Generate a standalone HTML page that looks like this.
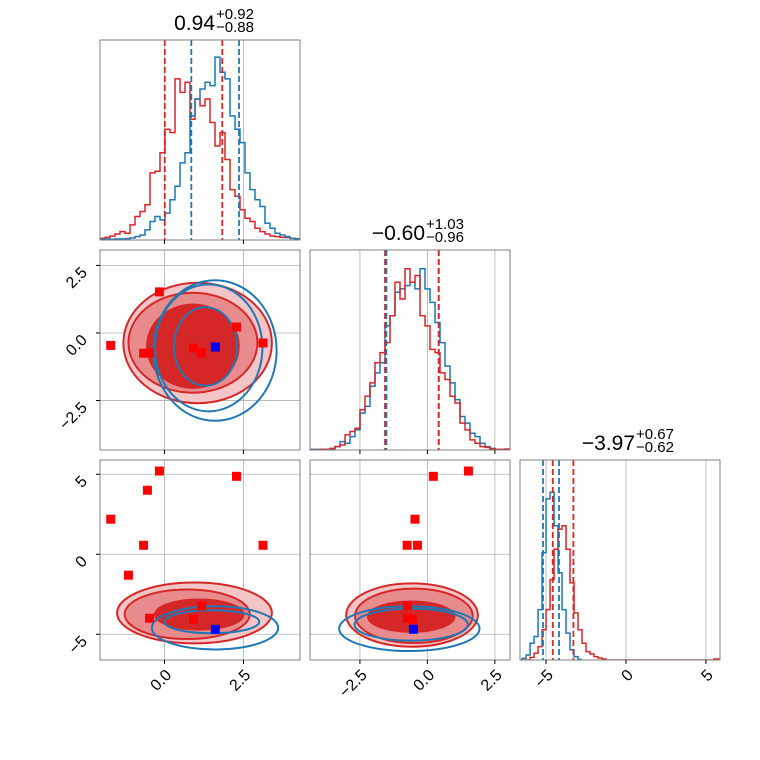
<!DOCTYPE html>
<html><head><meta charset="utf-8"><style>
html,body{margin:0;padding:0;background:#fff;}
svg{display:block;font-family:"Liberation Sans","DejaVu Sans",sans-serif;}
</style></head><body>
<svg id="chart" width="760" height="760" viewBox="0 0 760 760" xmlns="http://www.w3.org/2000/svg"></svg>
<script>
// ---- data ----
const hist1Range = [-2.04, 4.29];
const hist1Red = [5,8,12,18,25,20,45,70,85,105,200,205,260,330,320,480,440,470,360,420,400,420,350,280,320,240,150,130,90,65,55,35,25,18,12,10,8,8,5,4];
const hist1Blue = [2,3,2,3,3,4,6,10,15,30,55,70,60,80,120,160,230,260,370,420,450,470,460,545,500,480,370,330,290,200,150,120,100,50,35,20,15,10,5,3];
const hist2Range = [-4.35, 3.06];
const hist2Blue = [2,2,2,2,2,10,25,20,40,60,110,130,190,230,260,370,400,470,480,490,500,480,540,480,440,380,320,250,200,150,100,80,50,40,20,10,5,2,2,1];
const hist2Red = [0,0,2,2,5,10,15,45,55,65,120,160,200,260,290,320,400,500,450,540,500,520,400,370,300,290,230,210,160,140,80,60,30,20,10,8,3,2,1,3];
const hist3Start = -6.5, hist3Width = 0.25;
const hist3Blue = [5,15,50,70,150,320,480,500,400,260,150,80,30,10,2];
const hist3Red = [0,0,8,20,40,90,150,240,330,390,400,330,230,140,90,50,25,18,10,6,3,0,0,0,0,0,0,0,0,0,0,0,0,0,0,0,0,0,0,0,0,0,0,0,0,0,0,0,3,3];
const histMax = 596;
const q1Red = [0.01, 1.83], q1Blue = [0.85, 2.36];
const q2Red = [-1.57, 0.42], q2Blue = [-1.52, 0.42];
const q3Red = [-4.58, -3.29], q3Blue = [-5.19, -4.19];
const ptsP1 = [-1.70,-1.14,-0.66,-0.54,-0.16,-0.47,0.92,1.17,2.28,3.12];
const ptsP2 = [-0.46,-5.5,-0.75,-5.5,1.52,-0.74,-0.56,-0.74,0.22,-0.37];
const ptsP3 = [2.19,-1.31,0.56,4.0,5.2,-4.0,-4.06,-3.23,4.87,0.56];
const bestP = [1.61,-0.52,-4.69];
const c12Red = [[1.05,-0.37,2.35,2.23],[0.9,-0.36,2.04,1.85],[0.9,-0.49,1.45,1.54]];
const c12Blue = [[1.6,-0.65,1.95,2.6],[1.4,-0.55,1.7,2.35],[1.3,-0.5,1.0,1.45]];
const c13Red = [[0.95,-3.67,2.45,1.9],[0.72,-3.75,1.98,1.55],[1.1,-3.77,1.4,0.94]];
const c13Blue = [[1.6,-4.6,2.0,1.35],[1.5,-4.22,1.5,0.72]];
const c23Red = [[-0.57,-3.8,2.44,1.98],[-0.5,-3.85,2.18,1.7],[-0.6,-3.9,1.6,0.95]];
const c23Blue = [[-0.67,-4.65,2.6,1.4],[-0.6,-4.4,2.1,1.0]];

// ---- layout ----
const svg = document.getElementById('chart');
const NS = 'http://www.w3.org/2000/svg';
const PX = [100,310,520], PY = [40,250,460], S = 200;
const colDom = [[-2.04,4.29],[-4.35,3.06],[-6.63,5.88]];
const rowDom = [null,[-4.33,3.07],[-6.61,5.89]];
const xTicks = [[0,2.5],[-2.5,0,2.5],[-5,0,5]];
const xTickLbl = [["0.0","2.5"],["\u22122.5","0.0","2.5"],["\u22125","0","5"]];
const yTicks = [null,[2.5,0,-2.5],[5,0,-5]];
const yTickLbl = [null,["2.5","0.0","\u22122.5"],["5","0","\u22125"]];
const RED='#d62728', BLUE='#1f77b4';
function sx(c,v){const d=colDom[c];return PX[c]+(v-d[0])/(d[1]-d[0])*S;}
function sy(r,v){const d=rowDom[r];return PY[r]+S-(v-d[0])/(d[1]-d[0])*S;}
function el(tag,attrs,parent){const e=document.createElementNS(NS,tag);for(const k in attrs)e.setAttribute(k,attrs[k]);(parent||svg).appendChild(e);return e;}

const defs = el('defs',{});
function clipFor(r,c){const id='clip'+r+c;if(!document.getElementById(id)){const cp=el('clipPath',{id:id},defs);el('rect',{x:PX[c],y:PY[r],width:S,height:S},cp);}return 'url(#'+id+')';}

function panelFrame(r,c,name){
  const g = el('g',{});
  
  
  xTicks[c].forEach(t=>{const x=sx(c,t);const l=el('line',{x1:x,x2:x,y1:PY[r],y2:PY[r]+S,stroke:'#b0b0b0','stroke-width':0.8},g);});
  if(r>0 && c<r){yTicks[r].forEach(t=>{const y=sy(r,t);const l=el('line',{x1:PX[c],x2:PX[c]+S,y1:y,y2:y,stroke:'#b0b0b0','stroke-width':0.8},g);});}
  return g;
}
function panelBorder(r,c){
  const b=el('rect',{x:PX[c],y:PY[r],width:S,height:S,fill:'none',stroke:'#808080','stroke-width':1});
  
  
  xTicks[c].forEach(t=>{const x=sx(c,t);el('line',{x1:x,x2:x,y1:PY[r]+S,y2:PY[r]+S+4,stroke:'#000','stroke-width':1});});
  if(c===0 && r>0){yTicks[r].forEach(t=>{const y=sy(r,t);el('line',{x1:PX[c]-4,x2:PX[c],y1:y,y2:y,stroke:'#000','stroke-width':1});});}
}
function stepPath(counts,start,width,c,r0){
  const base=PY[r0]+S;let d='';
  counts.forEach((v,i)=>{const x0=sx(c,start+i*width),x1=sx(c,start+(i+1)*width);const y=base-v/histMax*S;d+=(i===0?'M'+x0+','+base+'L'+x0+','+y:'L'+x0+','+y)+'L'+x1+','+y;});
  return d;
}
function hist(r,c,counts,start,width,color,name){
  const p=el('path',{d:stepPath(counts,start,width,c,r),fill:'none',stroke:color,'stroke-width':1.5,'clip-path':clipFor(r,c)});
  
  
}
function qline(r,c,v,color,name){
  const x=sx(c,v);
  const l=el('line',{x1:x,x2:x,y1:PY[r],y2:PY[r]+S,stroke:color,'stroke-width':1.8,'stroke-dasharray':'6,3'});
  
  
}
function ellipse(r,c,e,fill,stroke,name){
  const cx=sx(c,e[0]),cy=sy(r,e[1]);
  const rx=Math.abs(sx(c,e[0]+e[2])-cx),ry=Math.abs(sy(r,e[1]+e[3])-cy);
  const o=el('ellipse',{cx:cx,cy:cy,rx:rx,ry:ry,fill:fill,stroke:stroke,'stroke-width':stroke==='none'?0:2,'clip-path':clipFor(r,c)});
  
  
}
function marker(r,c,xv,yv,color,name){
  const x=sx(c,xv),y=sy(r,yv);
  if(x<PX[c]-4||x>PX[c]+S+4||y<PY[r]-4||y>PY[r]+S+4)return;
  const m=el('rect',{x:x-4.5,y:y-4.5,width:9,height:9,fill:color});
  
  
}
function contours(r,c,red,blue){
  const fills=['#f4c5c6','#e88b8c',RED];
  red.forEach((e,i)=>ellipse(r,c,e,fills[i],'none','red-contour-fill'));
  red.forEach(e=>ellipse(r,c,e,'none',RED,'red-contour-line'));
  blue.forEach(e=>ellipse(r,c,e,'none',BLUE,'blue-contour-line'));
}

panelFrame(0,0,'hist-param1');
hist(0,0,hist1Red,hist1Range[0],(hist1Range[1]-hist1Range[0])/hist1Red.length,RED,'hist1-red');
hist(0,0,hist1Blue,hist1Range[0],(hist1Range[1]-hist1Range[0])/hist1Blue.length,BLUE,'hist1-blue');
q1Red.forEach(v=>qline(0,0,v,RED,'quantile-red'));
q1Blue.forEach(v=>qline(0,0,v,BLUE,'quantile-blue'));
panelBorder(0,0);

panelFrame(1,1,'hist-param2');
hist(1,1,hist2Blue,hist2Range[0],(hist2Range[1]-hist2Range[0])/hist2Blue.length,BLUE,'hist2-blue');
hist(1,1,hist2Red,hist2Range[0],(hist2Range[1]-hist2Range[0])/hist2Red.length,RED,'hist2-red');
q2Blue.forEach(v=>qline(1,1,v,BLUE,'quantile-blue'));
q2Red.forEach(v=>qline(1,1,v,RED,'quantile-red'));
panelBorder(1,1);

panelFrame(2,2,'hist-param3');
hist(2,2,hist3Blue,hist3Start,hist3Width,BLUE,'hist3-blue');
hist(2,2,hist3Red,hist3Start,hist3Width,RED,'hist3-red');
q3Blue.forEach(v=>qline(2,2,v,BLUE,'quantile-blue'));
q3Red.forEach(v=>qline(2,2,v,RED,'quantile-red'));
panelBorder(2,2);

panelFrame(1,0,'scatter-param1-param2');
contours(1,0,c12Red,c12Blue);
ptsP1.forEach((v,i)=>marker(1,0,v,ptsP2[i],'#ff0000','truth-marker'));
marker(1,0,bestP[0],bestP[1],'#0000ff','best-marker');
panelBorder(1,0);

panelFrame(2,0,'scatter-param1-param3');
contours(2,0,c13Red,c13Blue);
ptsP1.forEach((v,i)=>marker(2,0,v,ptsP3[i],'#ff0000','truth-marker'));
marker(2,0,bestP[0],bestP[2],'#0000ff','best-marker');
panelBorder(2,0);

panelFrame(2,1,'scatter-param2-param3');
contours(2,1,c23Red,c23Blue);
ptsP2.forEach((v,i)=>marker(2,1,v,ptsP3[i],'#ff0000','truth-marker'));
marker(2,1,bestP[1],bestP[2],'#0000ff','best-marker');
panelBorder(2,1);

for(let c=0;c<3;c++){xTicks[c].forEach((t,i)=>{const x=sx(c,t);const tx=el('text',{x:0,y:0,'font-size':16,'text-anchor':'end',transform:'translate('+(x+8)+','+(PY[2]+S+16)+') rotate(-45)'});tx.textContent=xTickLbl[c][i];});}
for(let r=1;r<3;r++){yTicks[r].forEach((t,i)=>{const y=sy(r,t);const tx=el('text',{x:0,y:0,'font-size':16,'text-anchor':'end',transform:'translate('+(PX[0]-12)+','+(y+8)+') rotate(-45)'});tx.textContent=yTickLbl[r][i];});}

function title(c,r,main,up,dn,name){
  const cx=PX[c]+S/2, y=PY[r]-10;
  const g=el('g',{});
  
  
  const t=el('text',{x:cx+15,y:y,'font-size':21,'text-anchor':'end'},g);t.textContent=main;
  const a=el('text',{x:cx+16,y:y-11,'font-size':15},g);a.textContent=up;
  const b=el('text',{x:cx+16,y:y+2,'font-size':15},g);b.textContent=dn;
}
title(0,0,'0.94','+0.92','\u22120.88','title-param1');
title(1,1,'\u22120.60','+1.03','\u22120.96','title-param2');
title(2,2,'\u22123.97','+0.67','\u22120.62','title-param3');
</script>
</body></html>
